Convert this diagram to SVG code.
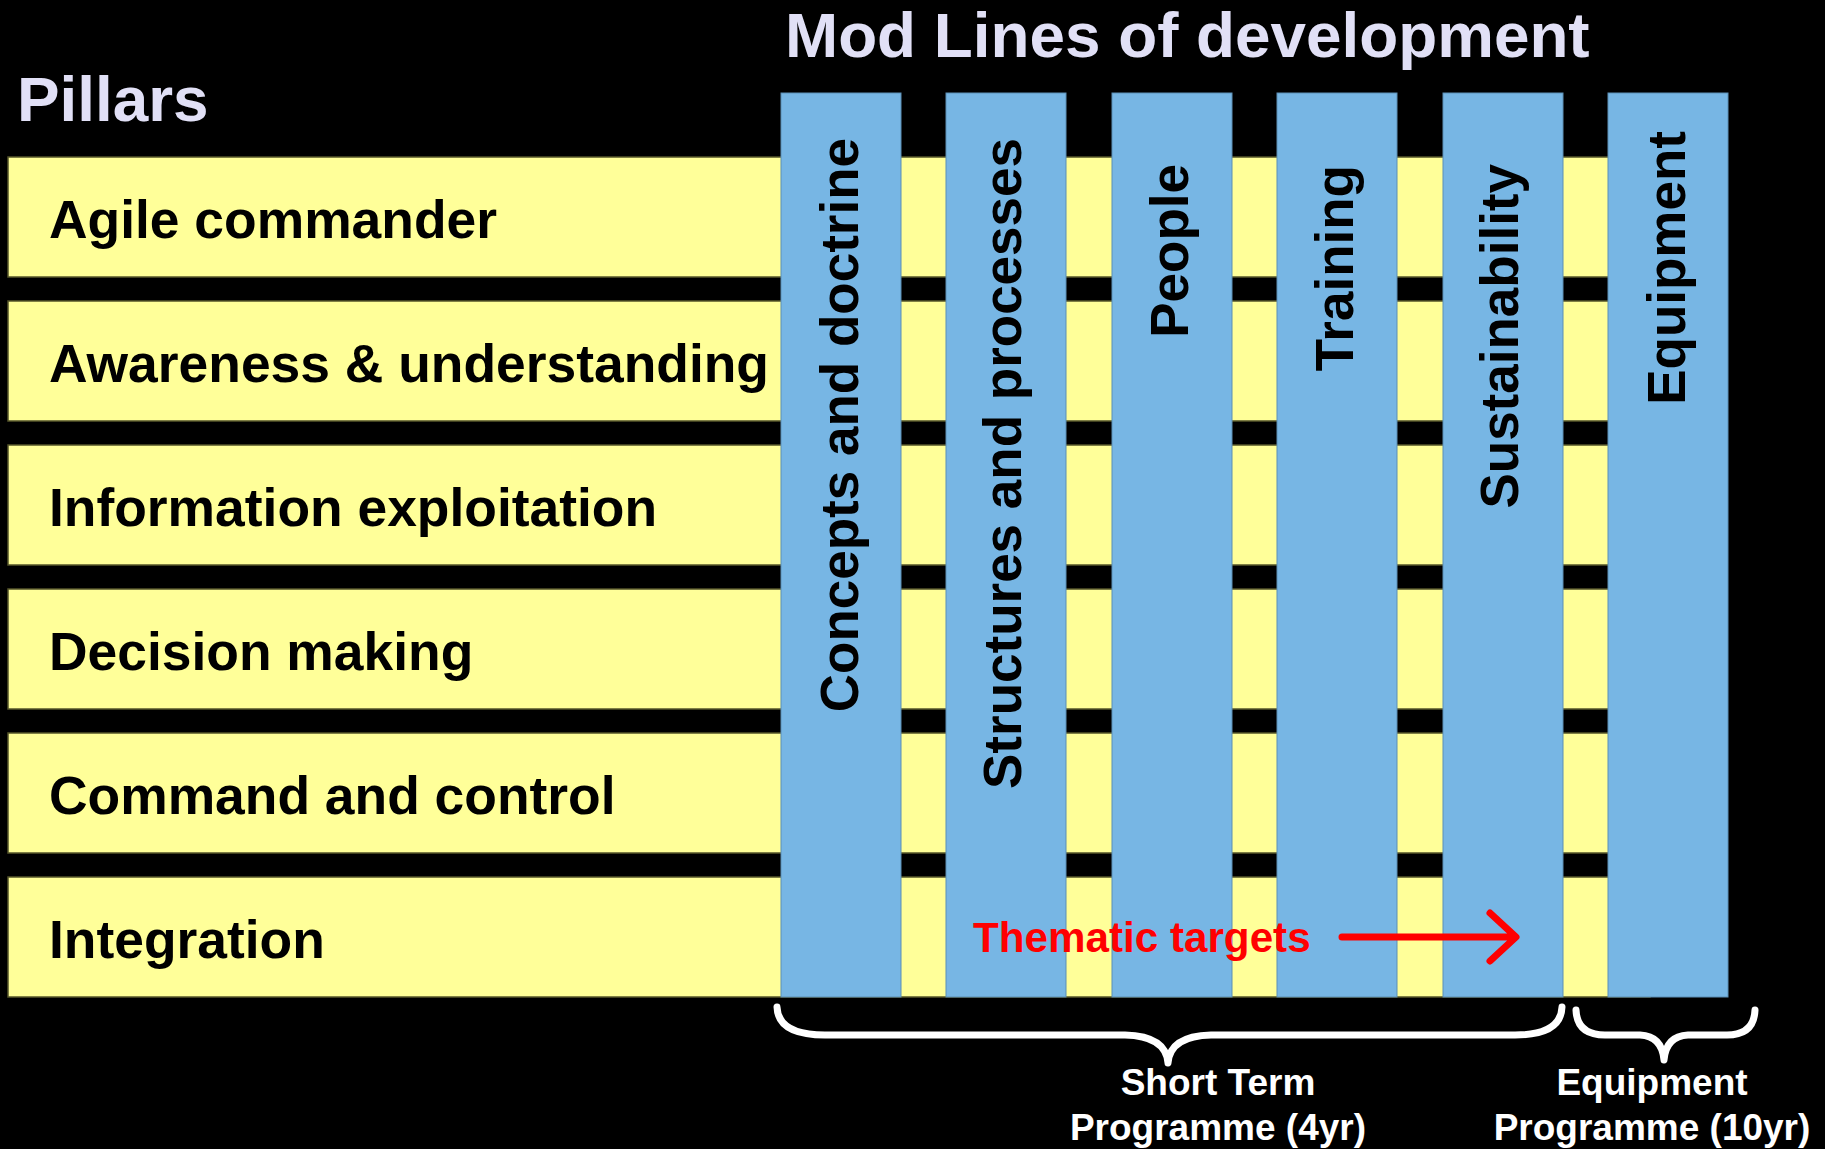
<svg xmlns="http://www.w3.org/2000/svg" width="1825" height="1149" viewBox="0 0 1825 1149">
<style>
.title{font-family:"Liberation Sans",Arial,sans-serif;font-weight:bold;font-size:63.8px;fill:#E1E0F6}
.band{fill:#FFFF99;stroke:#55552a;stroke-width:1.5}
.col{fill:#77B6E4;stroke:#5d8fb5;stroke-width:1}
.lbl{font-family:"Liberation Sans",Arial,sans-serif;font-weight:bold;font-size:53.4px;fill:#000}
.vl{font-family:"Liberation Sans",Arial,sans-serif;font-weight:bold;font-size:53px;fill:#000;text-anchor:end}
.brace{fill:none;stroke:#fff;stroke-width:7;stroke-linecap:round;stroke-linejoin:round}
.blbl{font-family:"Liberation Sans",Arial,sans-serif;font-weight:bold;font-size:37px;fill:#fff;text-anchor:middle}
</style>
<rect x="0" y="0" width="1825" height="1149" fill="#000"/>
<text class="title" x="785" y="57">Mod Lines of development</text>
<text class="title" x="17" y="121">Pillars</text>
<g id="pillar-agile"><rect class="band" x="8" y="157" width="1642" height="120"/><text class="lbl" x="49" y="238">Agile commander</text></g>
<g id="pillar-awareness"><rect class="band" x="8" y="301" width="1642" height="120"/><text class="lbl" x="49" y="382">Awareness &amp; understanding</text></g>
<g id="pillar-information"><rect class="band" x="8" y="445" width="1642" height="120"/><text class="lbl" x="49" y="526">Information exploitation</text></g>
<g id="pillar-decision"><rect class="band" x="8" y="589" width="1642" height="120"/><text class="lbl" x="49" y="670">Decision making</text></g>
<g id="pillar-c2"><rect class="band" x="8" y="733" width="1642" height="120"/><text class="lbl" x="49" y="814">Command and control</text></g>
<g id="pillar-integration"><rect class="band" x="8" y="877" width="1642" height="120"/><text class="lbl" x="49" y="958">Integration</text></g>
<g id="line-concepts"><rect class="col" x="781" y="93" width="120" height="904"/><text class="vl" transform="translate(858,138) rotate(-90)">Concepts and doctrine</text></g>
<g id="line-structures"><rect class="col" x="946" y="93" width="120" height="904"/><text class="vl" transform="translate(1021,138) rotate(-90)">Structures and processes</text></g>
<g id="line-people"><rect class="col" x="1112" y="93" width="120" height="904"/><text class="vl" transform="translate(1188,164) rotate(-90)">People</text></g>
<g id="line-training"><rect class="col" x="1277" y="93" width="120" height="904"/><text class="vl" transform="translate(1353,165) rotate(-90)">Training</text></g>
<g id="line-sustainability"><rect class="col" x="1443" y="93" width="120" height="904"/><text class="vl" transform="translate(1518,164) rotate(-90)">Sustainability</text></g>
<g id="line-equipment"><rect class="col" x="1608" y="93" width="120" height="904"/><text class="vl" transform="translate(1685,131) rotate(-90)">Equipment</text></g>
<g id="thematic">
<text x="973" y="952" font-family="Liberation Sans,Arial,sans-serif" font-weight="bold" font-size="42.2" fill="#FF0000">Thematic targets</text>
</g>
<g id="connectors">
<path d="M1342,937 L1514,937 M1490,913 L1516,937 L1490,961" fill="none" stroke="#FF0000" stroke-width="7" stroke-linecap="round" stroke-linejoin="round"/>
<path class="brace" d="M777,1007 Q778,1035 825,1035 L1125,1035 Q1166,1036 1168,1063 Q1170,1036 1211,1035 L1515,1035 Q1561,1035 1562,1007"/>
<path class="brace" d="M1576,1010 Q1577,1035 1605,1035 L1640,1035 Q1662,1036 1664,1060 Q1666,1036 1688,1035 L1727,1035 Q1754,1035 1755,1010"/>
</g>
<g id="label-short"><text class="blbl" x="1218" y="1095">Short Term</text><text class="blbl" x="1218" y="1140">Programme (4yr)</text></g>
<g id="label-equipment"><text class="blbl" x="1652" y="1095">Equipment</text><text class="blbl" x="1652" y="1140">Programme (10yr)</text></g>
</svg>
